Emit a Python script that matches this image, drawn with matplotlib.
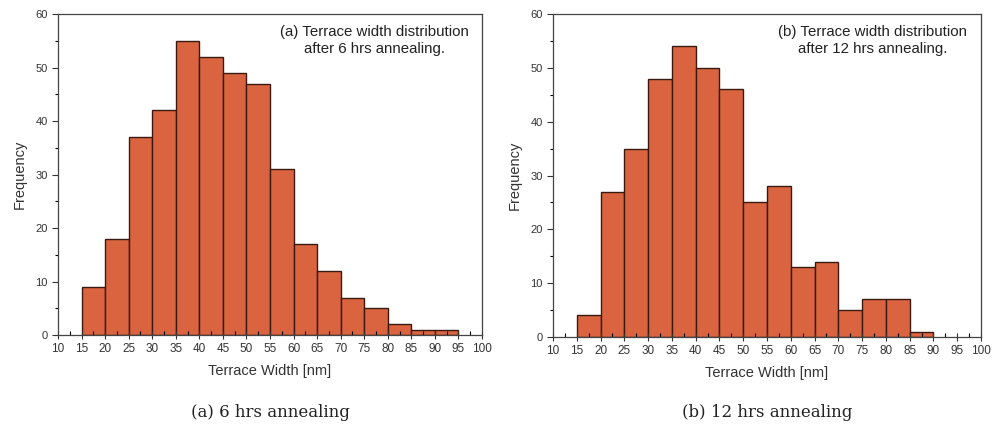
import matplotlib.pyplot as plt
from matplotlib.ticker import MultipleLocator

# bin left edges [nm] and counts
edges_a = [15, 20, 25, 30, 35, 40, 45, 50, 55, 60, 65, 70, 75, 80, 85, 90]
counts_a = [9, 18, 37, 42, 55, 52, 49, 47, 31, 17, 12, 7, 5, 2, 1, 1]

edges_b = [15, 20, 25, 30, 35, 40, 45, 50, 55, 60, 65, 70, 75, 80, 85]
counts_b = [4, 27, 35, 48, 54, 50, 46, 25, 28, 13, 14, 5, 7, 7, 1]

notes = ["(a) Terrace width distribution\nafter 6 hrs annealing.",
         "(b) Terrace width distribution\nafter 12 hrs annealing."]
captions = ["(a) 6 hrs annealing", "(b) 12 hrs annealing"]

plt.rcParams['font.family'] = ['Liberation Sans', 'DejaVu Sans']

fig = plt.figure(figsize=(10.01, 4.29), dpi=100)
fig.patch.set_facecolor('white')

boxes = [[0.058, 0.219, 0.4235, 0.748], [0.5524, 0.2145, 0.4276, 0.7525]]
data = [(edges_a, counts_a), (edges_b, counts_b)]

for i in range(2):
    ax = fig.add_axes(boxes[i])
    edges, counts = data[i]
    ax.bar(edges, counts, width=5, align='edge', color='#d9643f',
           edgecolor='#3a1a10', linewidth=1.0)
    ax.set_xlim(10, 100)
    ax.set_ylim(0, 60)
    ax.xaxis.set_major_locator(MultipleLocator(5))
    ax.xaxis.set_minor_locator(MultipleLocator(2.5))
    ax.yaxis.set_major_locator(MultipleLocator(10))
    ax.yaxis.set_minor_locator(MultipleLocator(5))
    ax.tick_params(axis='x', which='major', direction='inout', length=6, width=0.8,
                   labelsize=8.5, colors='#333333', pad=3)
    ax.tick_params(axis='x', which='minor', direction='in', length=3, width=0.8)
    ax.tick_params(axis='y', which='major', direction='out', length=4, width=0.8,
                   labelsize=8, colors='#333333')
    ax.tick_params(axis='y', which='minor', direction='out', length=2, width=0.8)
    for s in ax.spines.values():
        s.set_color('#444444')
        s.set_linewidth(0.9)
    ax.set_xlabel("Terrace Width [nm]", fontsize=10.5, color='#333333', labelpad=6)
    ax.set_ylabel("Frequency", fontsize=10.5, color='#333333', labelpad=6)
    ax.text(77.2, 58, notes[i], ha='center', va='top', multialignment='center',
            fontsize=10.8, color='#222222', linespacing=1.25)
    x_mid = boxes[i][0] + boxes[i][2] / 2
    fig.text(x_mid, 0.038, captions[i], ha='center', va='center',
             fontsize=12, family='DejaVu Serif', color='#222222')

plt.savefig("out.png", dpi=100)
